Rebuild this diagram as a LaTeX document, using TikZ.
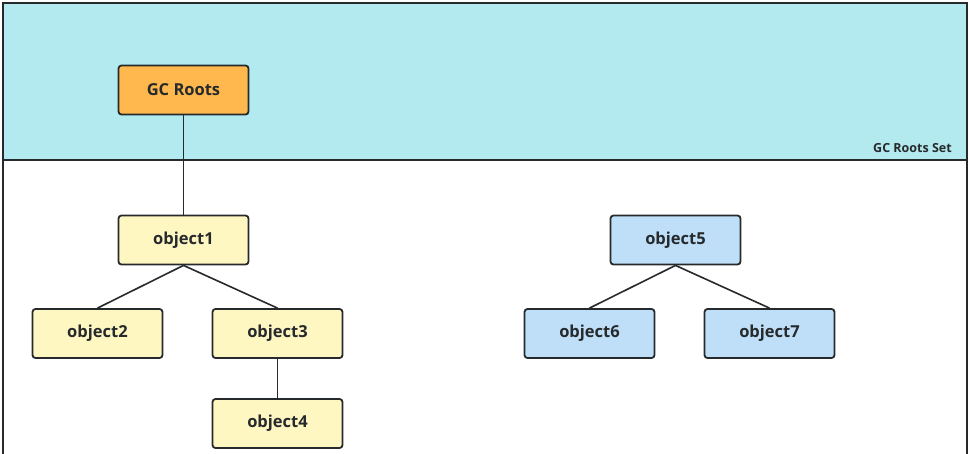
\documentclass[tikz,border=0pt]{standalone}
\usepackage{fontspec}
\setmainfont{Open Sans}
\definecolor{setbg}{HTML}{B3EAEF}
\definecolor{rootfill}{HTML}{FFB84D}
\definecolor{yelfill}{HTML}{FFF7C2}
\definecolor{bluefill}{HTML}{BEDFF7}
\definecolor{edge}{HTML}{262A2C}
\begin{document}
\begin{tikzpicture}[x=1pt,y=-1pt,
  box/.style={draw=edge,line width=1.8pt,rounded corners=3pt,minimum width=130pt,minimum height=49pt,font=\bfseries\fontsize{16.5}{19}\selectfont,text=edge,inner sep=0pt},
  link/.style={draw=edge,line width=1.6pt}]
\useasboundingbox (0,0) rectangle (969,453);
\fill[setbg] (3,3) rectangle (967,160);
\draw[edge,line width=1.8pt] (3,460) -- (3,3) -- (967,3) -- (967,460);
\draw[edge,line width=1.8pt] (3,160) -- (967,160);
\node[anchor=base east,font=\bfseries\fontsize{12.5}{14}\selectfont,text=edge,inner sep=0pt] (setlabel) at (952,152) {GC Roots Set};
\node[box,fill=rootfill] (gc) at (183.5,90) {GC Roots};
\node[box,fill=yelfill] (o1) at (183.5,240) {object1};
\node[box,fill=yelfill] (o2) at (97.5,333.5) {object2};
\node[box,fill=yelfill] (o3) at (277.5,333.5) {object3};
\node[box,fill=yelfill] (o4) at (277.5,423.5) {object4};
\node[box,fill=bluefill] (o5) at (675.5,240) {object5};
\node[box,fill=bluefill] (o6) at (589.5,333.5) {object6};
\node[box,fill=bluefill] (o7) at (769.5,333.5) {object7};
\draw[link] (gc) -- (o1);
\draw[link] (o1.south) -- (o2.north);
\draw[link] (o1.south) -- (o3.north);
\draw[link] (o3) -- (o4);
\draw[link] (o5.south) -- (o6.north);
\draw[link] (o5.south) -- (o7.north);
\end{tikzpicture}
\end{document}
